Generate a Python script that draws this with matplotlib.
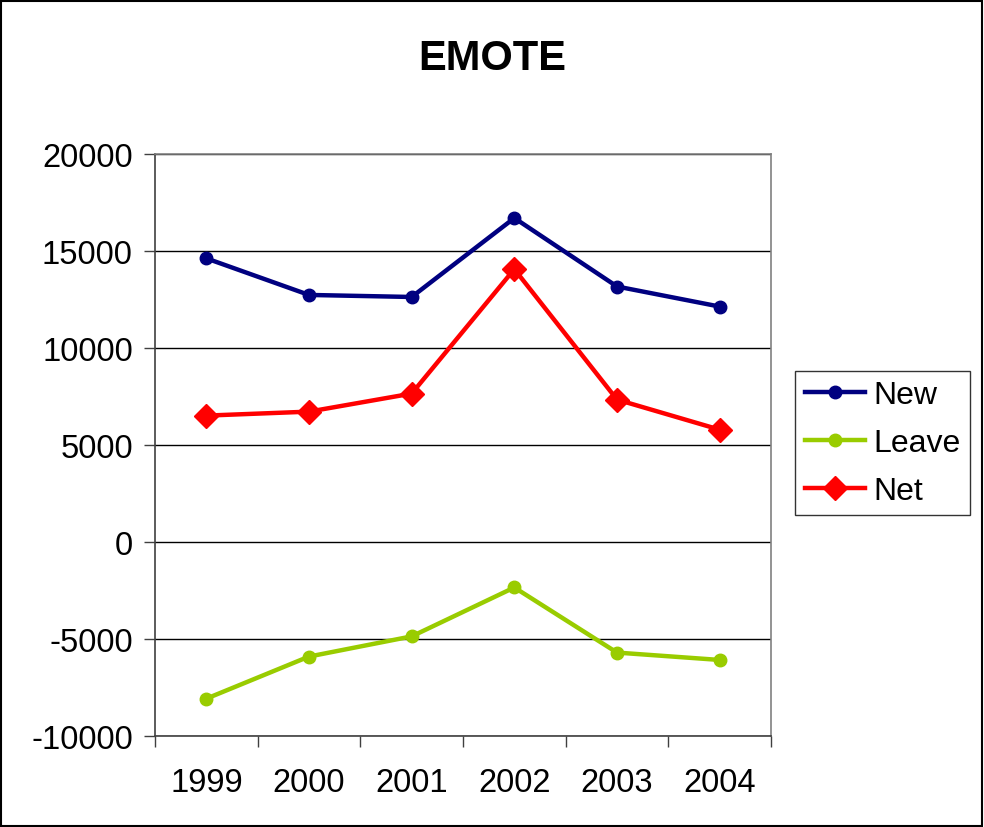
import numpy as np
import matplotlib as mpl
import matplotlib.pyplot as plt
from matplotlib.patches import Rectangle

mpl.rcParams['font.family'] = ['Liberation Sans', 'DejaVu Sans']
mpl.rcParams['axes.unicode_minus'] = False

years = ['1999', '2000', '2001', '2002', '2003', '2004']
new = [14620, 12735, 12630, 16700, 13170, 12135]
leave = [-8075, -5905, -4865, -2345, -5700, -6080]
net = [6515, 6720, 7650, 14065, 7340, 5790]

fig = plt.figure(figsize=(9.84, 8.28), dpi=100)
ax = fig.add_axes([155/984, 1-737/828, (771-155)/984, (737-155)/828])

x = np.arange(len(years)) + 0.5
ax.plot(x, new, color='#000080', lw=3.2, marker='o', ms=9, label='New')
ax.plot(x, leave, color='#99CC00', lw=3.2, marker='o', ms=9, label='Leave')
ax.plot(x, net, color='#FF0000', lw=3.2, marker='D', ms=12, label='Net')

ax.set_xlim(0, len(years))
ax.set_ylim(-10000, 20000)
ax.set_yticks(np.arange(-10000, 20001, 5000))
ax.set_xticks(np.arange(0, len(years)+1))
ax.set_xticklabels([])
ax.set_xticks(x, minor=True)
ax.set_xticklabels(years, minor=True)
ax.tick_params(axis='x', which='minor', length=0, pad=22, labelsize=23.5)
ax.tick_params(axis='x', which='major', length=8, width=1, color='#404040', direction='out')
ax.tick_params(axis='y', length=8, width=1, color='#404040', direction='out', labelsize=23.5, pad=8)
ax.yaxis.grid(True, color='black', lw=1)
ax.set_axisbelow(True)

for s in ['left', 'bottom']:
    ax.spines[s].set_color('#404040')
    ax.spines[s].set_linewidth(1.2)
for s in ['top', 'right']:
    ax.spines[s].set_color('#808080')
    ax.spines[s].set_linewidth(1.2)

fig.text(0.5, 1-70/828, 'EMOTE', ha='center', va='baseline', fontsize=30, fontweight='bold')

leg = ax.legend(loc='center left', bbox_to_anchor=(795/984, 1-444/828), bbox_transform=fig.transFigure,
                fontsize=23, frameon=True, fancybox=False, borderpad=0.3, labelspacing=0.56,
                handlelength=1.9, handletextpad=0.25, borderaxespad=0)
leg.get_frame().set_edgecolor('black')
leg.get_frame().set_linewidth(1)

fig.patches.append(Rectangle((0.001, 0.001), 0.997, 0.997, transform=fig.transFigure,
                             fill=False, edgecolor='black', lw=1.5))

fig.savefig('out.png', dpi=100)
